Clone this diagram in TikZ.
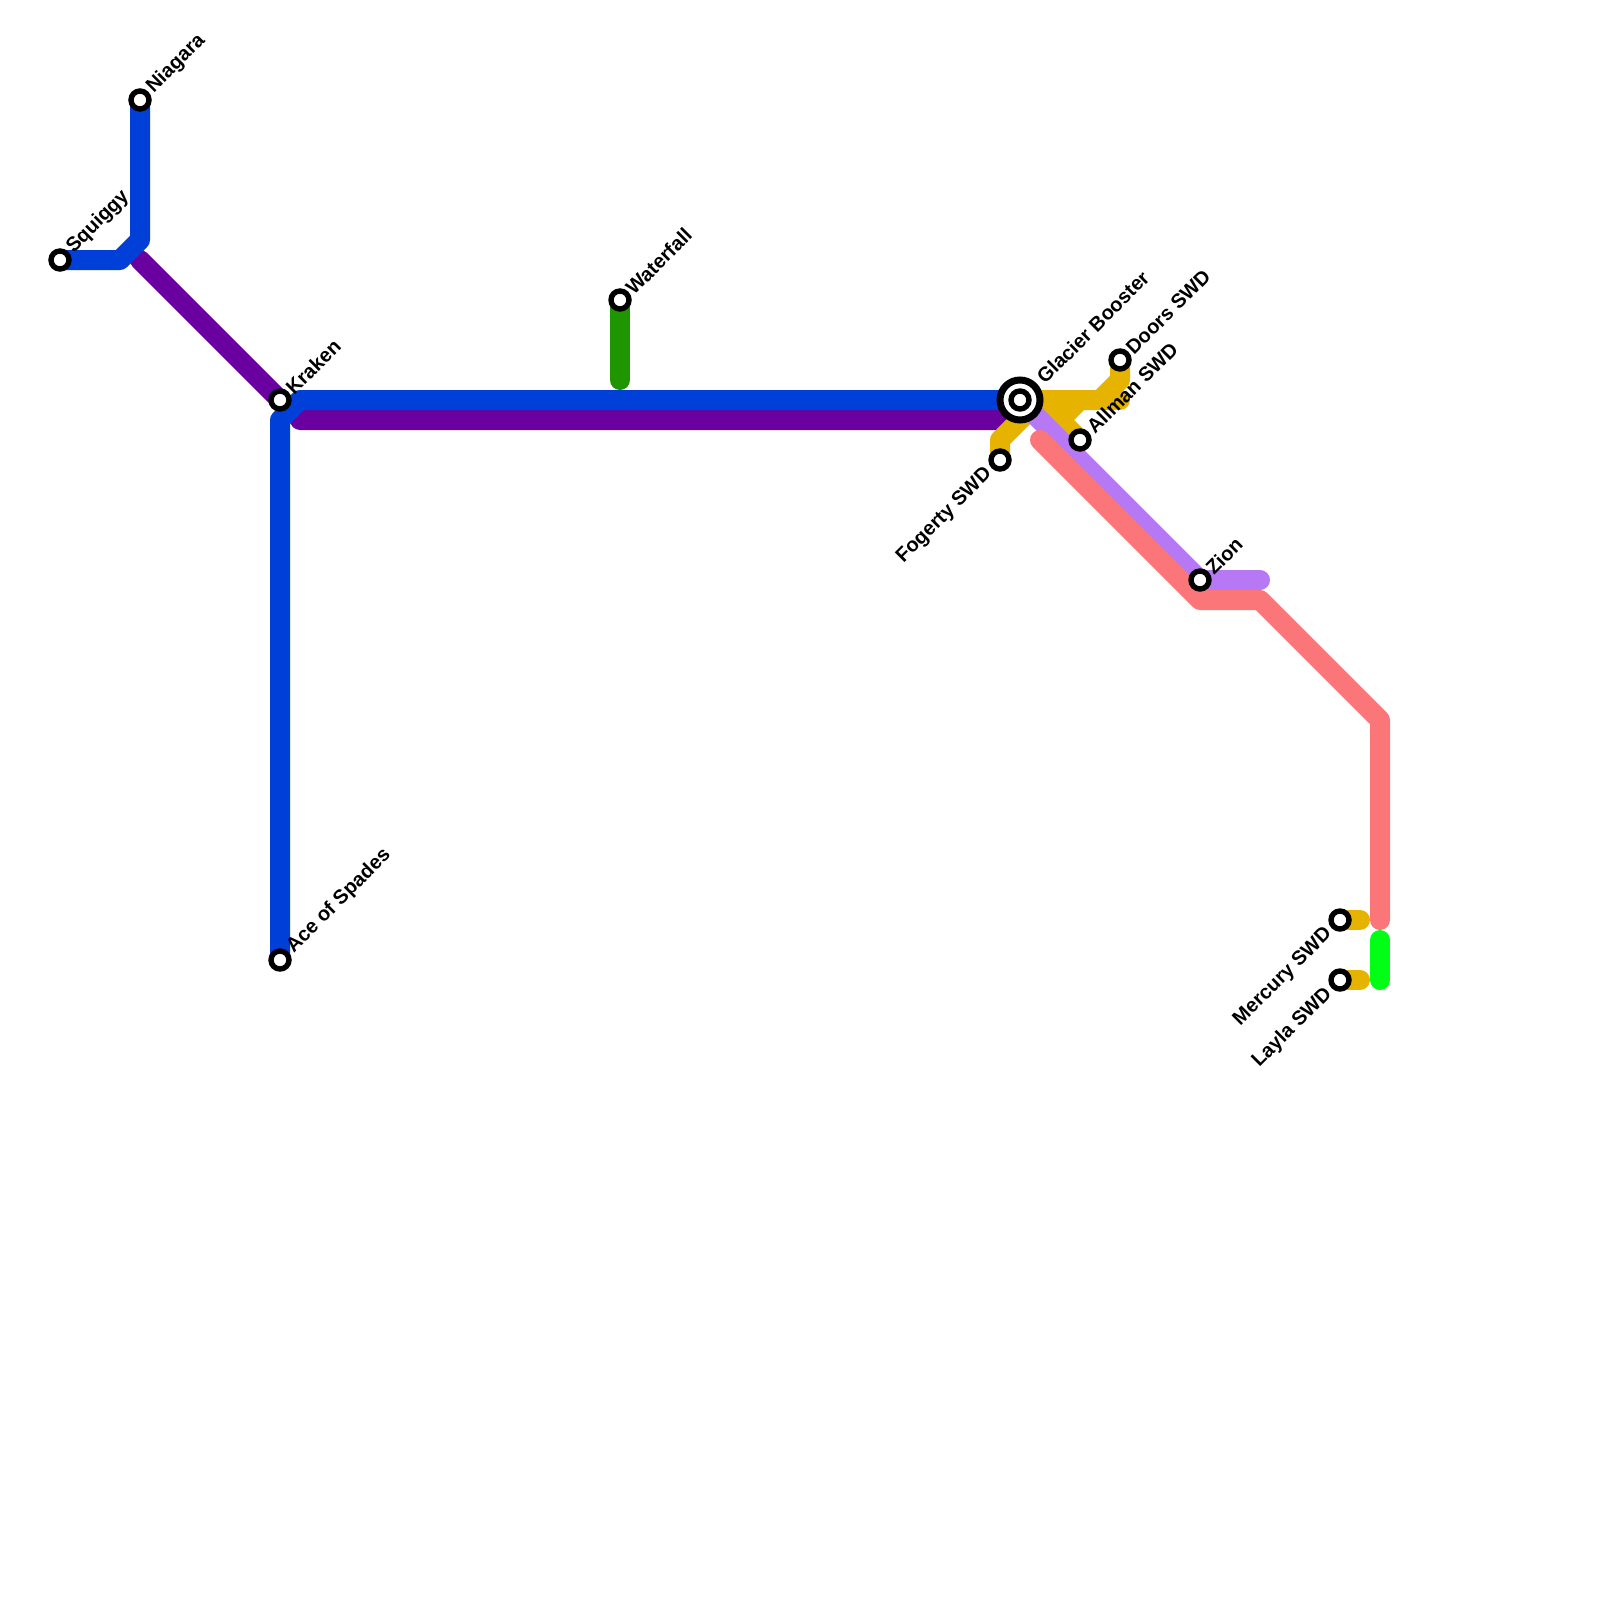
\documentclass[tikz,border=0pt]{standalone}
\usepackage{fontspec}
\setmainfont{Liberation Sans}
\definecolor{cblue}{HTML}{0040D8}
\definecolor{cpurple}{HTML}{6A00A0}
\definecolor{cyellow}{HTML}{E6B400}
\definecolor{cpink}{HTML}{FB7678}
\definecolor{clilac}{HTML}{B778F5}
\definecolor{cgreen}{HTML}{1F9600}
\definecolor{clime}{HTML}{00FF14}
\tikzset{
  route/.style={line width=20pt,line cap=round,line join=round},
  stn/.style={circle,draw=black,fill=white,line width=5.4pt,minimum size=18pt,inner sep=0pt},
  hubring/.style={circle,draw=black,fill=white,line width=7pt,minimum size=40pt,inner sep=0pt},
  lblr/.style={font=\fontsize{20}{22}\selectfont\bfseries,rotate=45,anchor=west,inner sep=0pt},
  lbll/.style={font=\fontsize{20}{22}\selectfont\bfseries,rotate=45,anchor=east,inner sep=0pt},
}
\begin{document}
\begin{tikzpicture}[x=1pt,y=-1pt]
\useasboundingbox (0,0) rectangle (1600,1600);
\fill[white] (0,0) rectangle (1600,1600);
% coordinates
\coordinate (squiggy) at (60,260);
\coordinate (niagara) at (140,100);
\coordinate (kraken) at (280,400);
\coordinate (ace) at (280,960);
\coordinate (waterfall) at (620,300);
\coordinate (glacier) at (1020,400);
\coordinate (doors) at (1120,360);
\coordinate (allman) at (1080,440);
\coordinate (fogerty) at (1000,460);
\coordinate (zion) at (1200,580);
\coordinate (mercury) at (1340,920);
\coordinate (layla) at (1340,980);
\coordinate (b1) at (120,260);
\coordinate (b2) at (140,240);
\coordinate (b3) at (280,420);
\coordinate (b4) at (300,400);
\coordinate (p1) at (140,260);
\coordinate (p2) at (300,420);
\coordinate (p3) at (1000,420);
\coordinate (g1) at (620,380);
\coordinate (y1) at (1000,440);
\coordinate (y2) at (1120,380);
\coordinate (y3) at (1100,400);
\coordinate (y4) at (1120,400);
\coordinate (y5) at (1060,420);
\coordinate (y6) at (1080,400);
\coordinate (y8) at (1040,400);
\coordinate (k1) at (1040,440);
\coordinate (k2) at (1200,600);
\coordinate (k3) at (1260,600);
\coordinate (k4) at (1380,720);
\coordinate (k5) at (1380,920);
\coordinate (l1) at (1260,580);
\coordinate (m1) at (1360,920);
\coordinate (m2) at (1360,980);
\coordinate (v1) at (1380,940);
\coordinate (v2) at (1380,980);
% routes
\draw[route,cpurple] (p1) -- (kraken);
\draw[route,cpurple] (p2) -- (p3) -- (glacier);
\draw[route,cgreen] (waterfall) -- (g1);
\draw[route,cyellow] (fogerty) -- (y1) -- (y8);
\draw[route,cyellow] (doors) -- (y2) -- (y3) -- (glacier);
\draw[route,cyellow] (glacier) -- (y4);
\draw[route,cyellow] (y5) -- (y6);
\draw[route,cyellow] (y8) -- (allman);
\draw[route,cyellow] (mercury) -- (m1);
\draw[route,cyellow] (layla) -- (m2);
\draw[route,clilac] (glacier) -- (zion) -- (l1);
\draw[route,cpink] (k1) -- (k2) -- (k3) -- (k4) -- (k5);
\draw[route,clime] (v1) -- (v2);
\draw[route,cblue] (squiggy) -- (b1) -- (b2) -- (niagara);
\draw[route,cblue] (ace) -- (b3) -- (b4) -- (glacier);
% stations
\node[stn] (nsquiggy) at (squiggy) {};
\node[stn] (nniagara) at (niagara) {};
\node[stn] (nkraken) at (kraken) {};
\node[stn] (nace) at (ace) {};
\node[stn] (nwaterfall) at (waterfall) {};
\node[hubring] (nglacierr) at (glacier) {};
\node[stn] (nglacier) at (glacier) {};
\node[stn] (ndoors) at (doors) {};
\node[stn] (nallman) at (allman) {};
\node[stn] (nfogerty) at (fogerty) {};
\node[stn] (nzion) at (zion) {};
\node[stn] (nmercury) at (mercury) {};
\node[stn] (nlayla) at (layla) {};
% labels
\node[lblr] (tsquiggy) at (70,250) {Squiggy};
\node[lblr] (tniagara) at (150,90) {Niagara};
\node[lblr] (tkraken) at (289,391) {Kraken};
\node[lblr] (tace) at (290,950) {Ace of Spades};
\node[lblr] (twaterfall) at (629,291) {Waterfall};
\node[lblr] (tglacier) at (1040,380) {Glacier Booster};
\node[lblr] (tdoors) at (1129,351) {Doors SWD};
\node[lblr] (tallman) at (1090,430) {Allman SWD};
\node[lblr] (tzion) at (1209,571) {Zion};
\node[lbll] (tfogerty) at (989,471) {Fogerty SWD};
\node[lbll] (tmercury) at (1329,931) {Mercury SWD};
\node[lbll] (tlayla) at (1329,991) {Layla SWD};
\end{tikzpicture}
\end{document}
